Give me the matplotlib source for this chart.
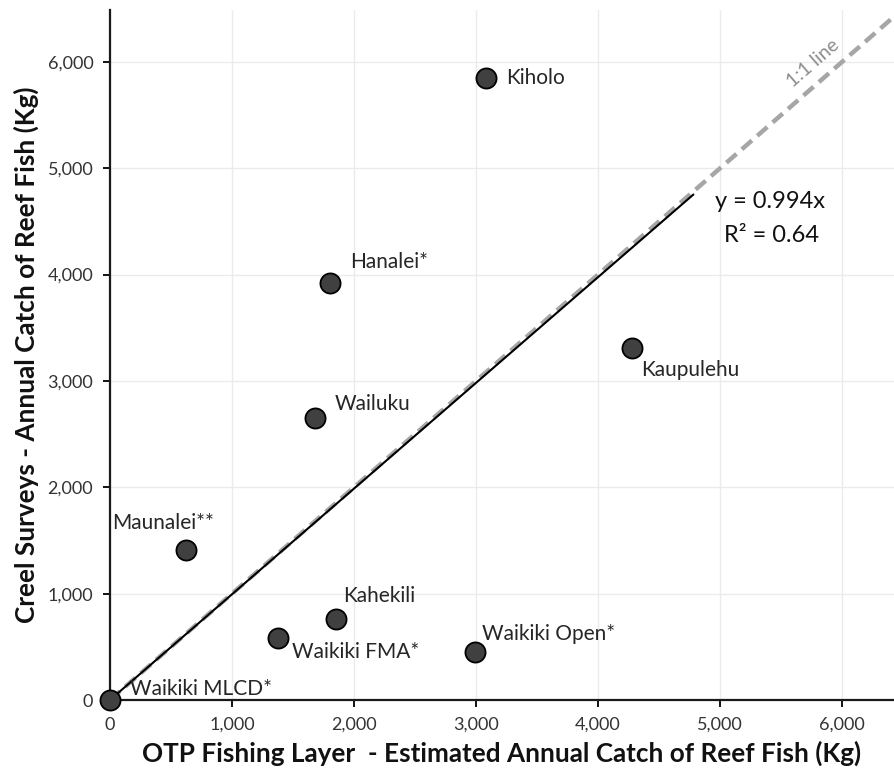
import numpy as np
import matplotlib
matplotlib.use("Agg")
import matplotlib.pyplot as plt
from matplotlib.ticker import FuncFormatter, MultipleLocator

# data
sites = ["Waikiki MLCD*", "Maunalei**", "Waikiki FMA*", "Kahekili", "Waikiki Open*",
         "Wailuku", "Hanalei*", "Kaupulehu", "Kiholo"]
otp_catch = [0, 620, 1380, 1850, 2990, 1680, 1800, 4280, 3080]
creel_catch = [0, 1410, 580, 760, 450, 2650, 3920, 3310, 5850]
slope = 0.994
r_squared = 0.64
trend_end = 4780

# label offsets (pixels) relative to each point
label_offsets = {
    "Waikiki MLCD*": (20, 11),
    "Maunalei**": (-73, 27),
    "Waikiki FMA*": (14, -14),
    "Kahekili": (7, 23),
    "Waikiki Open*": (7, 18),
    "Wailuku": (20, 14),
    "Hanalei*": (21, 21),
    "Kaupulehu": (9, -22),
    "Kiholo": (20, 0),
}

plt.rcParams['font.family'] = ['Lato', 'DejaVu Sans']

fig = plt.figure(figsize=(8.94, 7.79), dpi=100)
ax = fig.add_axes([0.123, 0.1014, 0.877, 0.886])

ax.set_xlim(0, 6426)
ax.set_ylim(0, 6490)
ax.xaxis.set_major_locator(MultipleLocator(1000))
ax.yaxis.set_major_locator(MultipleLocator(1000))
fmt = FuncFormatter(lambda v, p: f"{int(v):,}")
ax.xaxis.set_major_formatter(fmt)
ax.yaxis.set_major_formatter(fmt)
ax.grid(True, color="#ebebeb", linewidth=1)
ax.set_axisbelow(True)

for s in ["top", "right"]:
    ax.spines[s].set_visible(False)
for s in ["left", "bottom"]:
    ax.spines[s].set_linewidth(1.6)
    ax.spines[s].set_color("#1a1a1a")
ax.tick_params(axis="both", direction="out", length=5, width=1.3,
               labelsize=13, labelcolor="#333333", pad=7)

# 1:1 line
one = np.array([0, 7000])
ax.plot(one, one, color="#a6a6a6", linewidth=3.2, dashes=(3, 1.6), zorder=2)
ax.text(5760, 5990, "1:1 line", rotation=41, color="#8c8c8c", fontsize=14,
        ha="center", va="center", rotation_mode="anchor")

# trend line
tx = np.array([0, trend_end])
ax.plot(tx, slope * tx, color="black", linewidth=1.5, zorder=3)
ax.text(5410, 4685, f"y = {slope}x", fontsize=17, ha="center", va="center", color="#111111")
ax.text(5420, 4365, f"R² = {r_squared}", fontsize=17, ha="center", va="center", color="#111111")

ax.scatter(otp_catch, creel_catch, s=210, color="#404040", edgecolors="black",
           linewidths=1.3, zorder=5, clip_on=False)

for name, x, y in zip(sites, otp_catch, creel_catch):
    dx, dy = label_offsets[name]
    ax.annotate(name, (x, y), xytext=(dx, dy), textcoords="offset pixels",
                ha="left", va="center", fontsize=15, color="#262626", zorder=6)

ax.set_xlabel("OTP Fishing Layer  - Estimated Annual Catch of Reef Fish (Kg)",
              fontsize=18.8, fontweight="bold", color="#111111", labelpad=6)
ax.set_ylabel("Creel Surveys - Annual Catch of Reef Fish (Kg)",
              fontsize=18.8, fontweight="bold", color="#111111", labelpad=6)

fig.savefig("out.png", dpi=100)
